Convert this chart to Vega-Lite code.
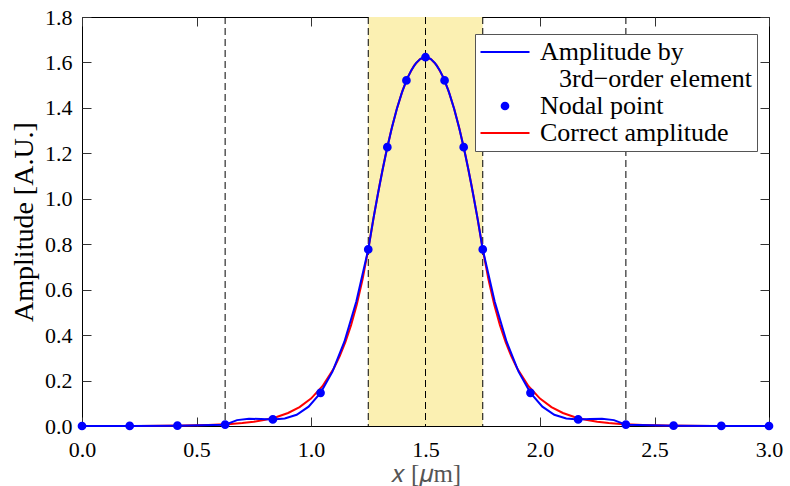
{
  "$schema": "https://vega.github.io/schema/vega-lite/v6.json",
  "width": 687,
  "height": 409,
  "autosize": {"type": "none"},
  "padding": {"left": 82, "top": 17, "right": 21, "bottom": 60},
  "background": "white",
  "config": {
    "view": {"stroke": "black", "strokeWidth": 1},
    "font": "Liberation Serif",
    "axis": {
      "labelFont": "Liberation Serif",
      "labelFontSize": 22,
      "labelColor": "black",
      "labelFlush": false,
      "titleFont": "Liberation Serif",
      "titleFontWeight": "normal",
      "tickColor": "#333",
      "tickSize": -9,
      "tickWidth": 1,
      "domainColor": "black",
      "grid": false
    }
  },
  "datasets": {
    "curves": [
      {"x": 0, "y": 0, "s": "C"}, {"x": 0.25, "y": 0.0005, "s": "C"}, {"x": 0.35, "y": 0.001, "s": "C"}, {"x": 0.45, "y": 0.002, "s": "C"},
      {"x": 0.55, "y": 0.0042, "s": "C"}, {"x": 0.6, "y": 0.0061, "s": "C"}, {"x": 0.65, "y": 0.0089, "s": "C"}, {"x": 0.7, "y": 0.0129, "s": "C"},
      {"x": 0.75, "y": 0.0187, "s": "C"}, {"x": 0.8, "y": 0.0272, "s": "C"}, {"x": 0.85, "y": 0.0395, "s": "C"}, {"x": 0.9, "y": 0.0573, "s": "C"},
      {"x": 0.95, "y": 0.0831, "s": "C"}, {"x": 1.0, "y": 0.1207, "s": "C"}, {"x": 1.05, "y": 0.175, "s": "C"}, {"x": 1.1, "y": 0.254, "s": "C"},
      {"x": 1.125, "y": 0.306, "s": "C"}, {"x": 1.15, "y": 0.369, "s": "C"}, {"x": 1.175, "y": 0.444, "s": "C"}, {"x": 1.2, "y": 0.535, "s": "C"},
      {"x": 1.225, "y": 0.645, "s": "C"}, {"x": 1.25, "y": 0.777, "s": "C"}, {"x": 1.275, "y": 0.926, "s": "C"}, {"x": 1.3, "y": 1.064, "s": "C"},
      {"x": 1.325, "y": 1.189, "s": "C"}, {"x": 1.35, "y": 1.3, "s": "C"}, {"x": 1.375, "y": 1.396, "s": "C"}, {"x": 1.4, "y": 1.477, "s": "C"},
      {"x": 1.425, "y": 1.54, "s": "C"}, {"x": 1.45, "y": 1.586, "s": "C"}, {"x": 1.475, "y": 1.614, "s": "C"}, {"x": 1.5, "y": 1.623, "s": "C"},
      {"x": 1.525, "y": 1.614, "s": "C"}, {"x": 1.55, "y": 1.586, "s": "C"}, {"x": 1.575, "y": 1.54, "s": "C"}, {"x": 1.6, "y": 1.477, "s": "C"},
      {"x": 1.625, "y": 1.396, "s": "C"}, {"x": 1.65, "y": 1.3, "s": "C"}, {"x": 1.675, "y": 1.189, "s": "C"}, {"x": 1.7, "y": 1.064, "s": "C"},
      {"x": 1.725, "y": 0.926, "s": "C"}, {"x": 1.75, "y": 0.777, "s": "C"}, {"x": 1.775, "y": 0.645, "s": "C"}, {"x": 1.8, "y": 0.535, "s": "C"},
      {"x": 1.825, "y": 0.444, "s": "C"}, {"x": 1.85, "y": 0.369, "s": "C"}, {"x": 1.875, "y": 0.306, "s": "C"}, {"x": 1.9, "y": 0.254, "s": "C"},
      {"x": 1.95, "y": 0.175, "s": "C"}, {"x": 2.0, "y": 0.1207, "s": "C"}, {"x": 2.05, "y": 0.0831, "s": "C"}, {"x": 2.1, "y": 0.0573, "s": "C"},
      {"x": 2.15, "y": 0.0395, "s": "C"}, {"x": 2.2, "y": 0.0272, "s": "C"}, {"x": 2.25, "y": 0.0187, "s": "C"}, {"x": 2.3, "y": 0.0129, "s": "C"},
      {"x": 2.35, "y": 0.0089, "s": "C"}, {"x": 2.4, "y": 0.0061, "s": "C"}, {"x": 2.45, "y": 0.0042, "s": "C"}, {"x": 2.55, "y": 0.002, "s": "C"},
      {"x": 2.65, "y": 0.001, "s": "C"}, {"x": 2.75, "y": 0.0005, "s": "C"}, {"x": 3.0, "y": 0, "s": "C"},
      {"x": 0, "y": 0, "s": "A"}, {"x": 0.2083, "y": 0.0003, "s": "A"}, {"x": 0.4167, "y": 0.0015, "s": "A"}, {"x": 0.625, "y": 0.006, "s": "A"},
      {"x": 0.6771, "y": 0.0259, "s": "A"}, {"x": 0.7292, "y": 0.032, "s": "A"}, {"x": 0.7813, "y": 0.0309, "s": "A"}, {"x": 0.8333, "y": 0.029, "s": "A"},
      {"x": 0.8854, "y": 0.033, "s": "A"}, {"x": 0.9375, "y": 0.0495, "s": "A"}, {"x": 0.9896, "y": 0.085, "s": "A"}, {"x": 1.0417, "y": 0.146, "s": "A"},
      {"x": 1.0938, "y": 0.2392, "s": "A"}, {"x": 1.1458, "y": 0.371, "s": "A"}, {"x": 1.1979, "y": 0.5481, "s": "A"}, {"x": 1.25, "y": 0.777, "s": "A"},
      {"x": 1.2708, "y": 0.903, "s": "A"}, {"x": 1.2917, "y": 1.019, "s": "A"}, {"x": 1.3125, "y": 1.128, "s": "A"}, {"x": 1.3333, "y": 1.227, "s": "A"},
      {"x": 1.3542, "y": 1.317, "s": "A"}, {"x": 1.375, "y": 1.396, "s": "A"}, {"x": 1.3958, "y": 1.464, "s": "A"}, {"x": 1.4167, "y": 1.521, "s": "A"},
      {"x": 1.4375, "y": 1.565, "s": "A"}, {"x": 1.4583, "y": 1.597, "s": "A"}, {"x": 1.4792, "y": 1.617, "s": "A"}, {"x": 1.5, "y": 1.623, "s": "A"},
      {"x": 1.5208, "y": 1.617, "s": "A"}, {"x": 1.5417, "y": 1.597, "s": "A"}, {"x": 1.5625, "y": 1.565, "s": "A"}, {"x": 1.5833, "y": 1.521, "s": "A"},
      {"x": 1.6042, "y": 1.464, "s": "A"}, {"x": 1.625, "y": 1.396, "s": "A"}, {"x": 1.6458, "y": 1.317, "s": "A"}, {"x": 1.6667, "y": 1.227, "s": "A"},
      {"x": 1.6875, "y": 1.128, "s": "A"}, {"x": 1.7083, "y": 1.019, "s": "A"}, {"x": 1.7292, "y": 0.903, "s": "A"}, {"x": 1.75, "y": 0.777, "s": "A"},
      {"x": 1.8021, "y": 0.5481, "s": "A"}, {"x": 1.8542, "y": 0.371, "s": "A"}, {"x": 1.9063, "y": 0.2392, "s": "A"}, {"x": 1.9583, "y": 0.146, "s": "A"},
      {"x": 2.0104, "y": 0.085, "s": "A"}, {"x": 2.0625, "y": 0.0495, "s": "A"}, {"x": 2.1146, "y": 0.033, "s": "A"}, {"x": 2.1667, "y": 0.029, "s": "A"},
      {"x": 2.2188, "y": 0.0309, "s": "A"}, {"x": 2.2708, "y": 0.032, "s": "A"}, {"x": 2.3229, "y": 0.0259, "s": "A"}, {"x": 2.375, "y": 0.006, "s": "A"},
      {"x": 2.5833, "y": 0.0015, "s": "A"}, {"x": 2.7917, "y": 0.0003, "s": "A"}, {"x": 3.0, "y": 0, "s": "A"}
    ],
    "nodes": [
      {"x": 0, "y": 0, "s": "N"}, {"x": 0.2083, "y": 0.0003, "s": "N"}, {"x": 0.4167, "y": 0.0015, "s": "N"}, {"x": 0.625, "y": 0.006, "s": "N"},
      {"x": 0.8333, "y": 0.029, "s": "N"}, {"x": 1.0417, "y": 0.146, "s": "N"}, {"x": 1.25, "y": 0.777, "s": "N"}, {"x": 1.3333, "y": 1.227, "s": "N"},
      {"x": 1.4167, "y": 1.521, "s": "N"}, {"x": 1.5, "y": 1.623, "s": "N"}, {"x": 1.5833, "y": 1.521, "s": "N"}, {"x": 1.6667, "y": 1.227, "s": "N"},
      {"x": 1.75, "y": 0.777, "s": "N"}, {"x": 1.9583, "y": 0.146, "s": "N"}, {"x": 2.1667, "y": 0.029, "s": "N"}, {"x": 2.375, "y": 0.006, "s": "N"},
      {"x": 2.5833, "y": 0.0015, "s": "N"}, {"x": 2.7917, "y": 0.0003, "s": "N"}, {"x": 3.0, "y": 0, "s": "N"}
    ],
    "dash": [{"x": 0.625}, {"x": 1.25}, {"x": 1.5}, {"x": 1.75}, {"x": 2.375}],
    "band": [{"x": 1.25, "x2": 1.75}]
  },
  "layer": [
    {
      "data": {"name": "band"},
      "mark": {"type": "rect", "color": "#FBF0B2"},
      "encoding": {
        "x": {"field": "x", "type": "quantitative", "scale": {"domain": [0, 3], "nice": false, "zero": false},
              "axis": {"orient": "top", "labels": false, "title": null, "domain": false, "values": [0, 0.5, 1, 1.5, 2, 2.5, 3]}},
        "x2": {"field": "x2"},
        "y": {"datum": 0, "type": "quantitative", "scale": {"domain": [0, 1.8], "nice": false},
              "axis": {"orient": "right", "labels": false, "title": null, "domain": false, "values": [0, 0.2, 0.4, 0.6, 0.8, 1.0, 1.2, 1.4, 1.6, 1.8]}},
        "y2": {"datum": 1.8}
      }
    },
    {
      "data": {"name": "dash"},
      "mark": {"type": "rule", "color": "black", "strokeWidth": 1, "strokeDash": [7, 4]},
      "encoding": {
        "x": {"field": "x", "type": "quantitative", "axis": null}
      }
    },
    {
      "data": {"name": "curves"},
      "transform": [{"filter": "datum.s === 'C'"}],
      "mark": {"type": "line", "strokeWidth": 2},
      "encoding": {
        "x": {"field": "x", "type": "quantitative",
              "axis": {"orient": "bottom", "title": "𝑥 [𝜇m]", "titleFontSize": 25, "titleColor": "#555", "format": ".1f", "values": [0, 0.5, 1, 1.5, 2, 2.5, 3], "labelPadding": 22, "titlePadding": 1, "domain": false}},
        "y": {"field": "y", "type": "quantitative",
              "axis": {"orient": "left", "title": "Amplitude [A.U.]", "titleFontSize": 28, "titleColor": "black", "format": ".1f", "values": [0, 0.2, 0.4, 0.6, 0.8, 1.0, 1.2, 1.4, 1.6, 1.8], "labelPadding": 19, "titlePadding": 6, "domain": false}},
        "stroke": {"field": "s", "type": "nominal",
                   "scale": {"domain": ["A", "N", "C"], "range": ["#0000FF", "#0000FF", "#FF0000"]},
                   "legend": {
                     "title": null, "orient": "none", "legendX": 393, "legendY": 17,
                     "padding": 5, "strokeColor": "#555", "fillColor": "white", "cornerRadius": 0,
                     "symbolStrokeWidth": 2, "symbolSize": 100, "symbolOffset": 12, "labelOffset": 22,
                     "labelFont": "Liberation Serif", "labelFontSize": 26, "labelColor": "black", "labelLimit": 0, "rowPadding": 1,
                     "labelExpr": "datum.value === 'A' ? ['Amplitude by', '\u28003rd−order element'] : datum.value === 'N' ? 'Nodal point' : 'Correct amplitude'",
                     "encode": {
                       "symbols": {"update": {"size": {"signal": "datum.value === 'N' ? 45 : 100"}}},
                       "labels": {"update": {"lineHeight": {"value": 27}}}
                     }
                   }}
      }
    },
    {
      "data": {"name": "curves"},
      "transform": [{"filter": "datum.s === 'A'"}],
      "mark": {"type": "line", "strokeWidth": 2},
      "encoding": {
        "x": {"field": "x", "type": "quantitative", "axis": null},
        "y": {"field": "y", "type": "quantitative", "axis": null},
        "stroke": {"field": "s", "type": "nominal"}
      }
    },
    {
      "data": {"name": "nodes"},
      "mark": {"type": "point", "filled": true, "size": 45, "strokeWidth": 2, "opacity": 1, "clip": false},
      "encoding": {
        "x": {"field": "x", "type": "quantitative", "axis": null},
        "y": {"field": "y", "type": "quantitative", "axis": null},
        "stroke": {"field": "s", "type": "nominal"},
        "fill": {"field": "s", "type": "nominal",
                 "scale": {"domain": ["A", "N", "C"], "range": ["#0000FF", "#0000FF", "#FF0000"]}},
        "shape": {"field": "s", "type": "nominal",
                  "scale": {"domain": ["A", "N", "C"], "range": ["M-4.9,0L4.9,0", "circle", "M-4.9,0L4.9,0"]}}
      }
    }
  ],
  "resolve": {"axis": {"x": "independent", "y": "independent"}}
}
